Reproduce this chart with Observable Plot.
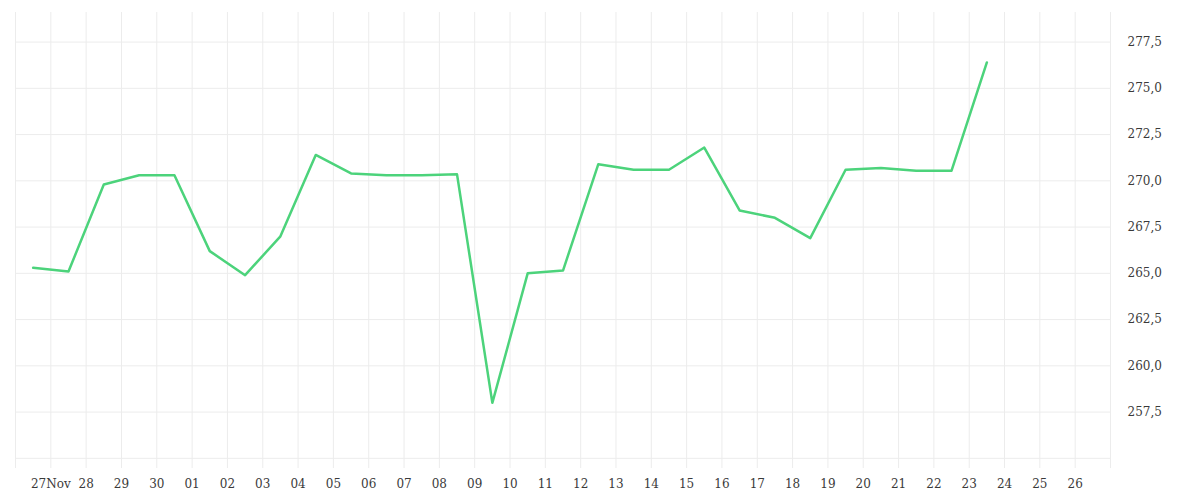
<!DOCTYPE html>
<html><head><meta charset="utf-8">
<script src="https://cdn.jsdelivr.net/npm/d3@7"></script>
<script src="https://cdn.jsdelivr.net/npm/@observablehq/plot@0.6"></script>
<style>body{margin:0;background:#fff}</style>
</head><body><div id="chart"></div>
<script>
const dates = ["2023-11-26","2023-11-27","2023-11-28","2023-11-29","2023-11-30",
  "2023-12-01","2023-12-02","2023-12-03","2023-12-04","2023-12-05","2023-12-06","2023-12-07",
  "2023-12-08","2023-12-09","2023-12-10","2023-12-11","2023-12-12","2023-12-13","2023-12-14",
  "2023-12-15","2023-12-16","2023-12-17","2023-12-18","2023-12-19","2023-12-20","2023-12-21",
  "2023-12-22","2023-12-23"];
const values = [265.3,265.1,269.8,270.3,270.3,266.2,264.9,267.0,271.4,270.4,270.3,270.3,
  270.35,258.0,265.0,265.15,270.9,270.6,270.6,271.8,268.4,268.0,266.9,270.6,270.7,270.55,
  270.55,276.4];
const gridDays = ["2023-11-26","2023-11-27","2023-11-28","2023-11-29","2023-11-30",
  "2023-12-01","2023-12-02","2023-12-03","2023-12-04","2023-12-05","2023-12-06","2023-12-07",
  "2023-12-08","2023-12-09","2023-12-10","2023-12-11","2023-12-12","2023-12-13","2023-12-14",
  "2023-12-15","2023-12-16","2023-12-17","2023-12-18","2023-12-19","2023-12-20","2023-12-21",
  "2023-12-22","2023-12-23","2023-12-24","2023-12-25","2023-12-26","2023-12-27"];
const tickDays = gridDays.slice(1, 31);
const tickLabels = ["27Nov","28","29","30","01","02","03","04","05","06","07","08","09","10",
  "11","12","13","14","15","16","17","18","19","20","21","22","23","24","25","26"];
const yGrid = [255,257.5,260,262.5,265,267.5,270,272.5,275,277.5];
const yLabels = [257.5,260,262.5,265,267.5,270,272.5,275,277.5];

const day = s => new Date(s + "T00:00:00Z");
const data = dates.map((d, i) => ({date: new Date(d + "T12:00:00Z"), value: values[i]}));
const labelMap = new Map(tickDays.map((d, i) => [+day(d), tickLabels[i]]));

const chart = Plot.plot({
  width: 1200, height: 500,
  marginLeft: 15, marginRight: 90, marginTop: 12, marginBottom: 32,
  style: {fontFamily: "DejaVu Serif", fontSize: "12px", color: "#3a3a3a", background: "#fff"},
  x: {type: "utc", domain: [day("2023-11-26"), day("2023-12-27")]},
  y: {domain: [254.45, 279.1]},
  marks: [
    Plot.gridX(gridDays.map(day), {stroke: "#ececec", strokeOpacity: 1}),
    Plot.gridY(yGrid, {stroke: "#ececec", strokeOpacity: 1}),
    Plot.axisX(tickDays.map(day), {tickSize: 0, tickPadding: 11, label: null,
      tickFormat: d => labelMap.get(+d)}),
    Plot.axisY(yLabels, {anchor: "right", tickSize: 0, tickPadding: 17, label: null,
      tickFormat: d => d.toFixed(1).replace(".", ",")}),
    Plot.line(data, {x: "date", y: "value", stroke: "#4cd37b", strokeWidth: 2.5})
  ]
});
document.getElementById("chart").append(chart);
</script>
</body></html>
